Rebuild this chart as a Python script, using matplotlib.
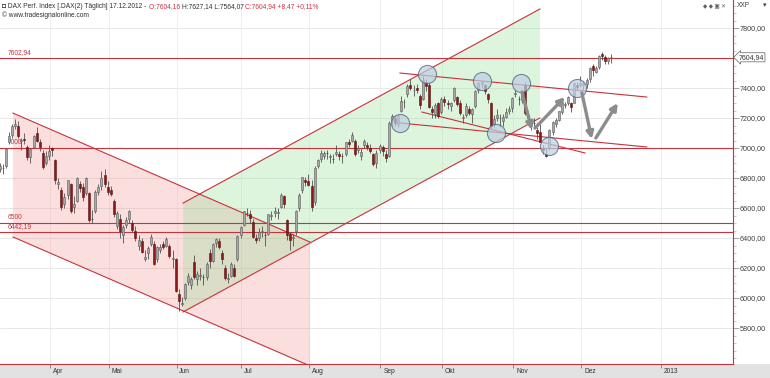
import numpy as np
import pandas as pd
import matplotlib
matplotlib.use("Agg")
import matplotlib.pyplot as plt
from matplotlib.patches import Polygon, Rectangle
from matplotlib.ticker import FuncFormatter, MultipleLocator

plt.rcParams['font.family'] = ['Liberation Sans', 'DejaVu Sans']

# DAX daily bars, 09.03.2012 - 17.12.2012
holidays = ['2012-04-06', '2012-04-09', '2012-05-01']
dates = [d for d in pd.bdate_range('2012-03-09', '2012-12-17') if d.strftime('%Y-%m-%d') not in holidays]

opens = [6860, 6870, 6880, 7040, 7090, 7150, 7150, 7050, 7060, 7010, 6940, 7010, 7100, 7040, 6970, 6900,
         6950, 7000, 6920, 6760, 6720, 6630, 6690, 6760, 6610, 6650, 6760, 6740, 6700, 6700, 6530, 6580, 6710, 6750, 6820,
         6740, 6720, 6650, 6480, 6530, 6420, 6490, 6530, 6500, 6450, 6350, 6380, 6260, 6300, 6360, 6360, 6260, 6320, 6360, 6350, 6350, 6260,
         6260, 6030, 5960, 6000, 6110, 6090, 6240, 6130, 6150, 6140, 6140, 6300, 6250, 6370, 6380, 6300, 6200, 6130, 6150, 6200, 6260,
         6420, 6490, 6570, 6560, 6510, 6400, 6400, 6440, 6420, 6430, 6550, 6570, 6570, 6610, 6680, 6520, 6430, 6400, 6450, 6600, 6720, 6790,
         6780, 6750, 6640, 6880, 6930, 6950, 6970, 6940, 6930, 6960, 6960, 6950, 6960, 7040, 7050, 7050, 6990, 6950, 7020, 7020, 7000, 6960, 6900,
         6990, 7010, 6960, 6950, 7180, 7200, 7160, 7250, 7310, 7360, 7420, 7390, 7400, 7350, 7330, 7440, 7420, 7260, 7230, 7300,
         7240, 7330, 7300, 7280, 7320, 7340, 7300, 7200, 7220, 7260, 7230, 7280, 7390, 7430, 7420, 7360, 7300, 7160, 7200, 7200, 7180, 7210, 7250,
         7270, 7360, 7330, 7320, 7420, 7220, 7160, 7170, 7120, 7110, 7000, 6960, 7000, 7110, 7160, 7190, 7240, 7290, 7300, 7300, 7300, 7420,
         7420, 7420, 7430, 7460, 7550, 7510, 7540, 7630, 7610, 7580, 7604]
highs = [6900, 6895, 7000, 7110, 7160, 7194, 7180, 7070, 7100, 7020, 7000, 7090, 7140, 7060, 6990, 6980,
         7020, 7010, 6930, 6800, 6740, 6700, 6790, 6770, 6680, 6810, 6780, 6770, 6810, 6710, 6590, 6720, 6760, 6850, 6860,
         6780, 6750, 6660, 6580, 6560, 6490, 6540, 6590, 6520, 6480, 6420, 6400, 6320, 6350, 6430, 6380, 6350, 6360, 6380, 6410, 6360, 6320,
         6270, 6060, 6010, 6100, 6170, 6140, 6290, 6180, 6200, 6160, 6240, 6330, 6370, 6400, 6400, 6320, 6220, 6170, 6240, 6230, 6420,
         6480, 6580, 6600, 6590, 6530, 6430, 6470, 6480, 6440, 6560, 6580, 6610, 6600, 6700, 6690, 6530, 6440, 6430, 6590, 6700, 6810, 6810,
         6830, 6790, 6880, 6930, 6990, 6980, 6990, 6960, 6960, 7020, 6980, 6970, 7040, 7060, 7110, 7060, 7020, 7000, 7060, 7040, 7030, 6970, 6990,
         7030, 7020, 6990, 7180, 7230, 7220, 7230, 7350, 7330, 7430, 7460, 7420, 7430, 7360, 7480, 7460, 7440, 7280, 7300, 7310,
         7340, 7350, 7320, 7310, 7410, 7350, 7320, 7230, 7300, 7280, 7270, 7390, 7440, 7450, 7430, 7370, 7310, 7220, 7260, 7230, 7230, 7270, 7280,
         7340, 7390, 7350, 7390, 7440, 7250, 7190, 7200, 7140, 7160, 7020, 7000, 7130, 7180, 7200, 7250, 7310, 7310, 7350, 7310, 7440, 7440,
         7480, 7450, 7470, 7540, 7560, 7550, 7620, 7640, 7620, 7610, 7627]
lows = [6840, 6830, 6870, 7030, 7070, 7130, 7070, 6990, 7030, 6920, 6900, 7000, 7040, 6980, 6860, 6890,
        6920, 6950, 6760, 6730, 6590, 6600, 6660, 6570, 6570, 6640, 6710, 6650, 6690, 6510, 6500, 6570, 6690, 6720, 6740,
        6690, 6680, 6540, 6460, 6400, 6370, 6470, 6500, 6440, 6380, 6320, 6300, 6250, 6260, 6350, 6220, 6240, 6300, 6330, 6340, 6270, 6200,
        6040, 5914, 5950, 5990, 6090, 6060, 6130, 6090, 6120, 6090, 6120, 6200, 6240, 6340, 6330, 6230, 6120, 6100, 6140, 6140, 6250,
        6400, 6480, 6550, 6500, 6400, 6370, 6380, 6410, 6350, 6420, 6520, 6540, 6530, 6600, 6600, 6390, 6320, 6350, 6420, 6580, 6700, 6750,
        6750, 6580, 6620, 6870, 6910, 6930, 6930, 6900, 6900, 6950, 6920, 6900, 6950, 7010, 7040, 6950, 6970, 6920, 7000, 6990, 6970, 6880, 6870,
        6970, 6950, 6910, 6940, 7150, 7150, 7140, 7240, 7270, 7340, 7390, 7350, 7370, 7260, 7320, 7380, 7270, 7200, 7200, 7200,
        7230, 7280, 7260, 7250, 7310, 7280, 7220, 7170, 7210, 7220, 7170, 7270, 7370, 7400, 7360, 7300, 7130, 7140, 7180, 7140, 7150, 7200, 7230,
        7240, 7340, 7290, 7300, 7220, 7180, 7120, 7140, 7060, 7040, 6960, 6940, 6990, 7090, 7140, 7180, 7230, 7270, 7290, 7240, 7300, 7390,
        7410, 7390, 7400, 7440, 7480, 7500, 7530, 7590, 7560, 7560, 7564]
closes = [6880, 6870, 6995, 7080, 7144, 7158, 7079, 7054, 7056, 6939, 6996, 7078, 7047, 7004, 6876, 6947,
          6983, 6984, 6784, 6775, 6606, 6674, 6785, 6583, 6625, 6801, 6733, 6671, 6801, 6523, 6524, 6705, 6739, 6802, 6761,
          6710, 6694, 6561, 6569, 6444, 6475, 6518, 6579, 6453, 6401, 6386, 6308, 6271, 6333, 6404, 6228, 6339, 6339, 6340, 6394, 6281, 6264,
          6050, 5978, 5969, 6093, 6144, 6130, 6141, 6161, 6152, 6138, 6229, 6248, 6363, 6392, 6343, 6263, 6132, 6136, 6228, 6150, 6416,
          6471, 6578, 6566, 6535, 6410, 6387, 6439, 6444, 6419, 6557, 6553, 6578, 6575, 6685, 6630, 6420, 6390, 6405, 6583, 6689, 6804, 6772,
          6754, 6607, 6865, 6918, 6967, 6966, 6965, 6944, 6929, 6974, 6946, 6949, 7040, 7029, 7089, 6959, 6999, 6971, 7047, 7010, 6983, 6893, 6970,
          7013, 6978, 6932, 7167, 7214, 7170, 7213, 7311, 7310, 7412, 7403, 7390, 7389, 7290, 7451, 7413, 7276, 7238, 7290, 7216,
          7326, 7305, 7291, 7297, 7398, 7291, 7234, 7205, 7281, 7233, 7261, 7377, 7436, 7437, 7380, 7328, 7144, 7192, 7223, 7203, 7204, 7243, 7260,
          7335, 7364, 7328, 7377, 7232, 7205, 7163, 7169, 7101, 7043, 6990, 6950, 7123, 7172, 7184, 7244, 7309, 7292, 7343, 7273, 7435, 7405,
          7436, 7435, 7456, 7534, 7517, 7531, 7614, 7614, 7581, 7597, 7605]

# horizontal levels
level_values = [7602.94, 7000, 6500, 6442.19]
level_labels = ['7602,94', '7000', '6500', '6442,19']

# price scale labels (7600 is hidden behind the last-price marker)
price_ticks = [5800, 6000, 6200, 6400, 6600, 6800, 7000, 7200, 7400, 7800]

# channels: (bar index, price) corners
red_upper = [(4.35, 7233), (100.5, 6373)]
red_lower = [(4.35, 6407), (100.5, 5547)]
green_lower = [(59.4, 5907), (174.9, 7200)]
green_upper = [(59.4, 6633), (174.9, 7927)]

# further trend lines
trend_lines = [
    [(129.6, 7500), (209.5, 7340)],
    [(136.7, 7240), (189.5, 6967)],
    [(129.6, 7167), (209.5, 7007)],
]

# circled turning points
circle_x = [138.3, 156.1, 168.8, 129.6, 160.7, 177.8, 186.9]
circle_y = [7493, 7447, 7433, 7167, 7100, 7013, 7400]

# projection arrows (start, end)
arrows = [
    [(169.1, 7373), (172.3, 7120)],
    [(173.3, 7133), (183.0, 7340)],
    [(188.5, 7367), (191.7, 7060)],
    [(193.0, 7067), (200.1, 7300)],
]

month_names = {4: 'Apr', 5: 'Mai', 6: 'Jun', 7: 'Jul', 8: 'Aug', 9: 'Sep', 10: 'Okt', 11: 'Nov', 12: 'Dez'}

RED = '#c8323c'

fig = plt.figure(figsize=(7.7, 3.78), dpi=100)
fig.patch.set_facecolor('white')
# grey strip under the time axis
fig.patches.append(Rectangle((0, 0), 1, 14 / 378, transform=fig.transFigure, facecolor='#e2e2e2',
                             edgecolor='none', zorder=-10))

ax = fig.add_axes([0, 14 / 378, 733 / 770, 364 / 378])
ax.set_facecolor('white')
ax.set_xlim(0.15, 237.4)
ax.set_ylim(5560, 7987)

# grid
for v in range(5800, 8000, 200):
    ax.axhline(v, color='#e4e4e4', lw=0.6, zorder=0)

# month ticks
x = np.arange(len(dates))
month_pos = []
month_lab = []
prev = None
for i, d in enumerate(dates):
    if d.month != prev and i > 0:
        month_pos.append(i + 0.3)
        month_lab.append(month_names[d.month])
    prev = d.month
month_pos.append(month_pos[-1] + 25.7)
month_lab.append('2013')
for p in month_pos:
    ax.axvline(p, color='#ececec', lw=0.6, zorder=0)

# channel fills
ax.add_patch(Polygon([red_upper[0], red_upper[1], red_lower[1], red_lower[0]], closed=True,
                     facecolor='#f08080', alpha=0.25, edgecolor='none', zorder=1))
ax.add_patch(Polygon([green_upper[0], green_upper[1], green_lower[1], green_lower[0]], closed=True,
                     facecolor='#90dc90', alpha=0.3, edgecolor='none', zorder=1))
for ln in [red_upper, red_lower, green_lower, green_upper] + trend_lines:
    ax.plot([ln[0][0], ln[1][0]], [ln[0][1], ln[1][1]], color=RED, lw=0.8, zorder=2)

# horizontal levels
for v, lab in zip(level_values, level_labels):
    ax.axhline(v, color=RED, lw=0.8, zorder=2)
    ax.text(2.5, v + 12, lab, color=RED, fontsize=4.8, va='bottom', ha='left', zorder=2)

# candles
o = np.array(opens)
h = np.array(highs)
l = np.array(lows)
c = np.array(closes)
up = c >= o
ax.vlines(x, l, h, color='#505050', lw=0.6, zorder=3)
ax.bar(x[up], (c - o)[up], bottom=o[up], width=0.65, color='#a8a8a8', edgecolor='#5a5a5a', lw=0.4, zorder=4)
ax.bar(x[~up], (o - c)[~up], bottom=c[~up], width=0.65, color='#8b1a1a', edgecolor='#5a0f0f', lw=0.4, zorder=4)

# circles
ax.scatter(circle_x, circle_y, s=170, facecolor='#bccfe2', alpha=0.7, edgecolor='#4c5c78', lw=0.8, zorder=5)

# arrows
for (x0, y0), (x1, y1) in arrows:
    ax.annotate('', xy=(x1, y1), xytext=(x0, y0),
                arrowprops=dict(arrowstyle='-|>', color='#8c8c8c', lw=2.4, mutation_scale=10,
                                shrinkA=0, shrinkB=0), zorder=6)

# axes cosmetics
for s in ['top', 'left']:
    ax.spines[s].set_visible(False)
ax.spines['right'].set_color(RED)
ax.spines['bottom'].set_color(RED)
ax.spines['right'].set_linewidth(0.8)
ax.spines['bottom'].set_linewidth(0.8)

ax.yaxis.tick_right()
ax.set_yticks(price_ticks)
ax.yaxis.set_minor_locator(MultipleLocator(50))
ax.yaxis.set_major_formatter(FuncFormatter(lambda v, p: f'{v:.2f}'.replace('.', ',')))
ax.tick_params(axis='y', which='major', length=4, width=0.5, color='#808080', labelsize=5.2,
               labelcolor='#404040', pad=1)
ax.tick_params(axis='y', which='minor', length=2, width=0.4, color='#a0a0a0')

ax.set_xticks(month_pos)
ax.set_xticklabels([])
ax.tick_params(axis='x', length=3, width=0.5, color='#606060')
for p, lab in zip(month_pos, month_lab):
    ax.text(p + 0.9, -0.012, lab, transform=ax.get_xaxis_transform(), fontsize=4.8,
            color='#303030', ha='left', va='top', zorder=10)

# last price marker
ax.annotate('7604,94', xy=(1.0, closes[-1]), xycoords=('axes fraction', 'data'),
            xytext=(4, 0), textcoords='offset points', fontsize=5, color='#303030',
            va='center', ha='left',
            bbox=dict(boxstyle='larrow,pad=0.15', facecolor='white', edgecolor='#606060', lw=0.5))

# header text
parts = [('\u25d8 DAX Perf. Index [.DAX(2) Täglich] 17.12.2012 - ', '#303030'),
         ('O:7604,16 ', RED),
         ('H:7627,14 L:7564,07 ', '#303030'),
         ('C:7604,94 +8,47 +0,11%', RED)]
t = fig.text(0.003, 1 - 10 / 378, parts[0][0], fontsize=4.8, color=parts[0][1], ha='left', va='bottom')
for s, col in parts[1:]:
    t = ax.annotate(s, xy=(1, 0), xycoords=t, fontsize=4.8, color=col, ha='left', va='bottom',
                    annotation_clip=False)
fig.text(0.003, 1 - 19 / 378, '\u00a9 www.tradesignalonline.com', fontsize=4.8, color='#303030',
         ha='left', va='bottom')
fig.text(737 / 770, 1 - 9 / 378, 'XXP', fontsize=4.8, color='#404040', ha='left', va='bottom')
fig.text(763 / 770, 1 - 9 / 378, '\u25be', fontsize=5, color='#404040', ha='left', va='bottom')
fig.text(703 / 770, 1 - 9 / 378, '\u25c6 \u25c6 \u25a3 \u2715', fontsize=4, color='#606060', ha='left', va='bottom')

fig.savefig('out.png', dpi=100)
